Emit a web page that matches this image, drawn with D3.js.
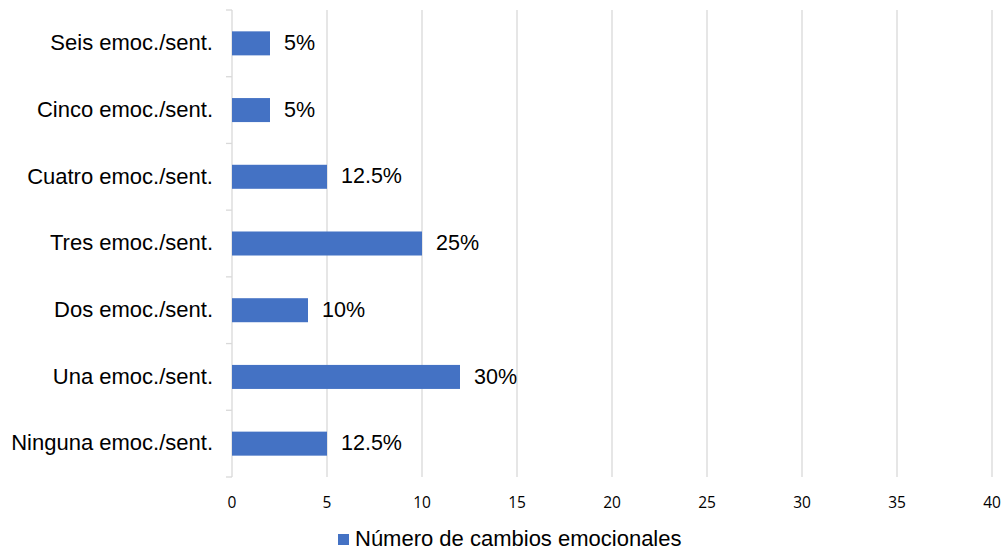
<!DOCTYPE html>
<html><head><meta charset="utf-8">
<script src="https://cdn.jsdelivr.net/npm/d3@7"></script>
<style>body{margin:0;background:#fff;}svg{display:block;}</style>
</head><body>
<script>
const categories = ["Seis emoc./sent.","Cinco emoc./sent.","Cuatro emoc./sent.","Tres emoc./sent.","Dos emoc./sent.","Una emoc./sent.","Ninguna emoc./sent."];
const values = [2, 2, 5, 10, 4, 12, 5];
const dataLabels = ["5%","5%","12.5%","25%","10%","30%","12.5%"];
const xTicks = [0,5,10,15,20,25,30,35,40];
const seriesName = "Número de cambios emocionales";

(function () {
const W = 1001, H = 553;
const svg = d3.select("body").append("svg").attr("width", W).attr("height", H);
const pL = 232, pR = 992, pT = 10, pB = 477;
const FONT = "Liberation Sans, Arial, sans-serif";

const x = d3.scaleLinear().domain([0, 40]).range([pL, pR]);
const y = d3.scaleBand().domain(categories).range([pT, pB]).paddingInner(0.64).paddingOuter(0.32);
const yb = d3.scaleBand().domain(categories).range([pT, pB]);

// gridlines
svg.append("g").selectAll("line").data(xTicks.filter(d => d > 0)).join("line")
  .attr("x1", d => x(d)).attr("x2", d => x(d)).attr("y1", pT).attr("y2", pB)
  .attr("stroke", "#d9d9d9").attr("stroke-width", 1.3);

// y axis line and ticks
svg.append("line").attr("x1", pL).attr("x2", pL).attr("y1", pT).attr("y2", pB)
  .attr("stroke", "#d9d9d9").attr("stroke-width", 1.3);
const boundaries = categories.map(c => yb(c)).concat([pB]);
svg.append("g").selectAll("line").data(boundaries).join("line")
  .attr("x1", pL - 6).attr("x2", pL).attr("y1", d => d).attr("y2", d => d)
  .attr("stroke", "#d9d9d9").attr("stroke-width", 1.3);

// bars
svg.append("g").selectAll("rect").data(values).join("rect")
  .attr("x", x(0)).attr("y", (d, i) => y(categories[i]))
  .attr("width", d => x(d) - x(0)).attr("height", y.bandwidth())
  .attr("fill", "#4472C4");

// data labels
svg.append("g").selectAll("text").data(values).join("text")
  .attr("x", d => x(d) + 14).attr("y", (d, i) => y(categories[i]) + y.bandwidth() / 2 + 1)
  .attr("dominant-baseline", "middle")
  .attr("font-family", FONT).attr("font-size", 21.5)
  .attr("fill", "#000").text((d, i) => dataLabels[i]);

// category labels
svg.append("g").selectAll("text").data(categories).join("text")
  .attr("x", pL - 19).attr("y", d => yb(d) + yb.bandwidth() / 2 + 1)
  .attr("text-anchor", "end").attr("dominant-baseline", "middle")
  .attr("font-family", FONT).attr("font-size", 22)
  .attr("fill", "#000").text(d => d);

// x tick labels
svg.append("g").selectAll("text").data(xTicks).join("text")
  .attr("x", d => x(d)).attr("y", 504)
  .attr("text-anchor", "middle").attr("dominant-baseline", "middle")
  .attr("font-family", "Open Sans, DejaVu Sans, sans-serif").attr("font-size", 15.5)
  .attr("fill", "#000").text(d => d);

// legend
const lg = svg.append("g");
lg.append("rect").attr("x", 338).attr("y", 534).attr("width", 11).attr("height", 11).attr("fill", "#4472C4");
lg.append("text").attr("x", 355).attr("y", 540).attr("dominant-baseline", "middle")
  .attr("font-family", FONT).attr("font-size", 22)
  .attr("fill", "#000").text(seriesName);
})();
</script>
</body></html>
